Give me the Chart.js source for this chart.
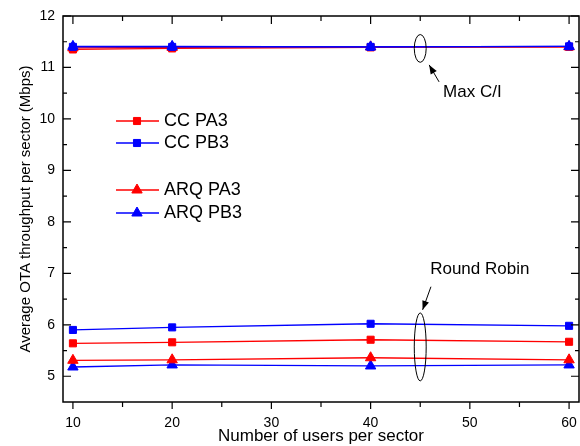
<!DOCTYPE html>
<html>
<head>
<meta charset="utf-8">
<script src="https://cdn.jsdelivr.net/npm/chart.js"></script>
<style>
  html, body { margin: 0; padding: 0; background: #fff; }
</style>
</head>
<body>
<canvas id="otaChart" width="580" height="446"></canvas>
<script>
// x values (users per sector) and axis ticks
var users = [10, 20, 40, 60];
var xTicks = [10, 20, 30, 40, 50, 60];
var yTicks = [5, 6, 7, 8, 9, 10, 11, 12];

// Max C/I scheduler
var ccPA3MaxCI  = [11.35, 11.37, 11.39, 11.40];
var arqPA3MaxCI = [11.38, 11.39, 11.40, 11.40];
var ccPB3MaxCI  = [11.40, 11.40, 11.40, 11.41];
var arqPB3MaxCI = [11.41, 11.41, 11.40, 11.41];

// Round Robin scheduler
var ccPA3RR  = [5.64, 5.66, 5.71, 5.67];
var ccPB3RR  = [5.90, 5.95, 6.02, 5.98];
var arqPA3RR = [5.31, 5.32, 5.36, 5.32];
var arqPB3RR = [5.18, 5.22, 5.20, 5.22];

var RED = '#ff0000', BLUE = '#0000ff';

function pts(vals) {
  return users.map(function (u, i) { return { x: u, y: vals[i] }; });
}

function series(label, vals, color, style) {
  return {
    label: label,
    data: pts(vals),
    borderColor: color,
    backgroundColor: color,
    borderWidth: 1.3,
    pointStyle: style,
    pointRadius: style === 'rect' ? 5 : 6,
    pointBorderWidth: 1,
    pointBackgroundColor: color,
    pointBorderColor: color,
    tension: 0
  };
}

// chart.js paints the first dataset on top, so blue Max C/I goes first
var datasets = [
  series('ARQ PB3', arqPB3MaxCI, BLUE, 'triangle'),
  series('CC PB3', ccPB3MaxCI, BLUE, 'rect'),
  series('CC PA3', ccPA3MaxCI, RED, 'rect'),
  series('ARQ PA3', arqPA3MaxCI, RED, 'triangle'),
  series('ARQ PA3', arqPA3RR, RED, 'triangle'),
  series('ARQ PB3', arqPB3RR, BLUE, 'triangle'),
  series('CC PA3', ccPA3RR, RED, 'rect'),
  series('CC PB3', ccPB3RR, BLUE, 'rect')
];

// legend rows: dataset index, row y in px (gap between CC and ARQ groups)
var legendRows = [
  { ds: 6, y: 121 },
  { ds: 7, y: 143 },
  { ds: 4, y: 190 },
  { ds: 5, y: 213 }
];

// annotations in data units
var ellipses = [
  { x: 45, y: 11.37, rx: 0.6, ry: 0.27 },
  { x: 45, y: 5.57, rx: 0.6, ry: 0.66 }
];
var arrows = [
  { x1: 46.9, y1: 10.72, x2: 45.9, y2: 11.05 },
  { x1: 46.08, y1: 6.74, x2: 45.24, y2: 6.29 }
];
var notes = [
  { text: 'Max C/I', x: 47.3, y: 10.51, align: 'left' },
  { text: 'Round Robin', x: 51.0, y: 7.07, align: 'center' }
];

var framePlugin = {
  id: 'frame',
  afterDatasetsDraw: function (chart) {
    var ctx = chart.ctx, a = chart.chartArea;
    var xs = chart.scales.x, ys = chart.scales.y;
    ctx.save();
    ctx.strokeStyle = '#000';
    ctx.lineWidth = 1.5;
    ctx.strokeRect(a.left, a.top, a.right - a.left, a.bottom - a.top);

    ctx.lineWidth = 1.2;
    ctx.beginPath();
    // x ticks: bottom outward, top inward
    xTicks.forEach(function (v) {
      var p = xs.getPixelForValue(v);
      ctx.moveTo(p, a.bottom); ctx.lineTo(p, a.bottom + 7);
      ctx.moveTo(p, a.top); ctx.lineTo(p, a.top + 8);
      if (v + 5 < xs.max) {
        var q = xs.getPixelForValue(v + 5);
        ctx.moveTo(q, a.bottom); ctx.lineTo(q, a.bottom + 5);
        ctx.moveTo(q, a.top); ctx.lineTo(q, a.top + 5);
      }
    });
    // y ticks: inward on both sides
    yTicks.forEach(function (v) {
      var p = ys.getPixelForValue(v);
      ctx.moveTo(a.left, p); ctx.lineTo(a.left + 8, p);
      ctx.moveTo(a.right, p); ctx.lineTo(a.right - 8, p);
      if (v + 0.5 < ys.max) {
        var q = ys.getPixelForValue(v + 0.5);
        ctx.moveTo(a.left, q); ctx.lineTo(a.left + 4, q);
        ctx.moveTo(a.right, q); ctx.lineTo(a.right - 4, q);
      }
    });
    ctx.stroke();

    // ellipses and arrows
    ctx.lineWidth = 1;
    ellipses.forEach(function (e) {
      var cx = xs.getPixelForValue(e.x), cy = ys.getPixelForValue(e.y);
      var rx = Math.abs(xs.getPixelForValue(e.x + e.rx) - cx);
      var ry = Math.abs(ys.getPixelForValue(e.y + e.ry) - cy);
      ctx.beginPath();
      ctx.ellipse(cx, cy, rx, ry, 0, 0, Math.PI * 2);
      ctx.stroke();
    });
    arrows.forEach(function (r) {
      var x1 = xs.getPixelForValue(r.x1), y1 = ys.getPixelForValue(r.y1);
      var x2 = xs.getPixelForValue(r.x2), y2 = ys.getPixelForValue(r.y2);
      var ang = Math.atan2(y2 - y1, x2 - x1);
      ctx.beginPath();
      ctx.moveTo(x1, y1); ctx.lineTo(x2, y2);
      ctx.stroke();
      ctx.beginPath();
      ctx.moveTo(x2, y2);
      ctx.lineTo(x2 - 9 * Math.cos(ang) + 3.5 * Math.sin(ang), y2 - 9 * Math.sin(ang) - 3.5 * Math.cos(ang));
      ctx.lineTo(x2 - 9 * Math.cos(ang) - 3.5 * Math.sin(ang), y2 - 9 * Math.sin(ang) + 3.5 * Math.cos(ang));
      ctx.closePath();
      ctx.fillStyle = '#000';
      ctx.fill();
    });
    ctx.font = '17px "Liberation Sans", Arial, sans-serif';
    ctx.fillStyle = '#000';
    ctx.textBaseline = 'middle';
    notes.forEach(function (n) {
      ctx.textAlign = n.align;
      ctx.fillText(n.text, xs.getPixelForValue(n.x), ys.getPixelForValue(n.y));
    });

    // legend
    ctx.font = '18px "Liberation Sans", Arial, sans-serif';
    ctx.textAlign = 'left';
    legendRows.forEach(function (row) {
      var ds = chart.data.datasets[row.ds];
      ctx.strokeStyle = ds.borderColor;
      ctx.fillStyle = ds.borderColor;
      ctx.lineWidth = 1.3;
      ctx.beginPath();
      ctx.moveTo(116, row.y); ctx.lineTo(159, row.y);
      ctx.stroke();
      ctx.lineWidth = 1;
      Chart.helpers.drawPoint(ctx, { pointStyle: ds.pointStyle, radius: ds.pointRadius, rotation: 0, borderWidth: 1 }, 137, row.y);
      ctx.fillStyle = '#000';
      ctx.fillText(ds.label, 164, row.y);
    });
    ctx.restore();
  }
};

var ctx = document.getElementById('otaChart').getContext('2d');
var chart = new Chart(ctx, {
  type: 'line',
  data: { datasets: datasets },
  options: {
    responsive: false,
    animation: false,
    devicePixelRatio: 1,
    layout: { autoPadding: false, padding: { top: 16, right: 1, left: 0, bottom: 0 } },
    plugins: { legend: { display: false }, tooltip: { enabled: false } },
    scales: {
      x: {
        type: 'linear',
        min: 9,
        max: 61,
        afterBuildTicks: function (s) { s.ticks = xTicks.map(function (v) { return { value: v }; }); },
        afterFit: function (s) { s.height = 44; s.paddingLeft = 0; s.paddingRight = 0; },
        grid: { display: false, drawTicks: false },
        border: { display: false },
        ticks: { color: '#000', padding: 13, maxRotation: 0, font: { size: 14, family: '"Liberation Sans", Arial, sans-serif' } },
        title: {
          display: true,
          text: 'Number of users per sector',
          color: '#000',
          padding: { top: 0, bottom: 0 },
          font: { size: 17, lineHeight: 1.1, family: '"Liberation Sans", Arial, sans-serif' }
        }
      },
      y: {
        min: 4.5,
        max: 12,
        afterBuildTicks: function (s) { s.ticks = yTicks.map(function (v) { return { value: v }; }); },
        afterFit: function (s) { s.width = 63; s.paddingTop = 0; s.paddingBottom = 0; },
        grid: { display: false, drawTicks: false },
        border: { display: false },
        ticks: { color: '#000', padding: 8, font: { size: 14, family: '"Liberation Sans", Arial, sans-serif' } },
        title: {
          display: true,
          text: 'Average OTA throughput per sector (Mbps)',
          color: '#000',
          padding: { top: 17, bottom: 0 },
          font: { size: 15, family: '"Liberation Sans", Arial, sans-serif' }
        }
      }
    }
  },
  plugins: [framePlugin]
});
</script>
</body>
</html>
